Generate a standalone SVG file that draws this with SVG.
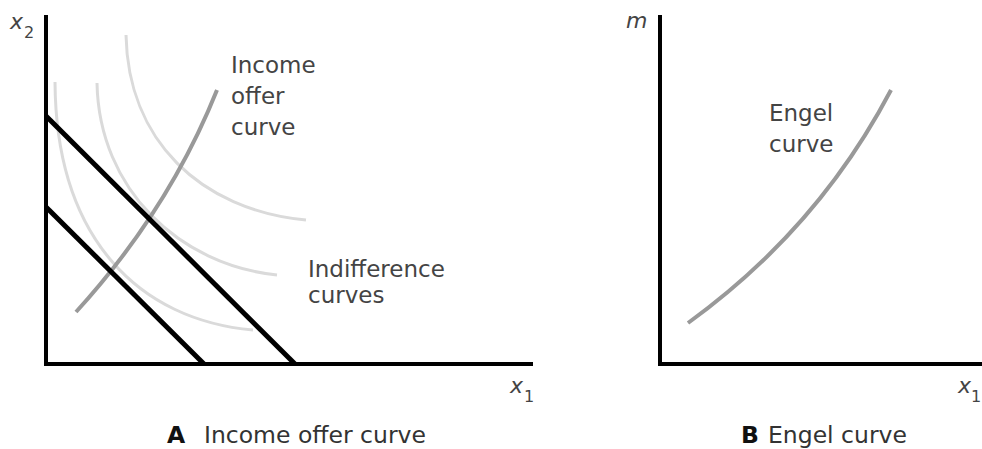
<svg xmlns="http://www.w3.org/2000/svg" width="982" height="449" viewBox="0 0 982 449">
<style>
.ax{stroke:#000;stroke-width:4;fill:none;stroke-linecap:butt}
.bud{stroke:#000;stroke-width:5;fill:none}
.ioc{stroke:#999;stroke-width:4;fill:none}
.ic{stroke:#dadada;stroke-width:3;fill:none}
.lbl{font-family:"DejaVu Sans",sans-serif;font-size:23px;fill:#444}
.cap{font-family:"DejaVu Sans",sans-serif;font-size:23.5px;fill:#333}
.capb{font-family:"DejaVu Sans",sans-serif;font-size:23.5px;font-weight:bold;fill:#111}
.var{font-family:"DejaVu Sans",sans-serif;font-style:italic;font-size:22px;fill:#444}
.sub{font-family:"DejaVu Sans",sans-serif;font-size:16px;fill:#444}
</style>
<rect width="982" height="449" fill="#fff"/>
<g id="panelA">
  <g id="indifference-curves">
    <path class="ic" d="M126,35 C128,140 200,210 306,220"/>
    <path class="ic" d="M97,83 C99,190 180,265 277,275"/>
    <path class="ic" d="M55,82 C56,240 140,320 253,330"/>
  </g>
  <g id="income-offer-curve">
    <path class="ioc" d="M76,312 Q169,210 217,90"/>
  </g>
  <g id="budget-lines">
    <line class="bud" x1="46" y1="116" x2="295" y2="364"/>
    <line class="bud" x1="46" y1="207" x2="204" y2="364"/>
  </g>
  <g id="axesA">
    <line class="ax" x1="46" y1="15" x2="46" y2="366"/>
    <line class="ax" x1="44" y1="364" x2="533" y2="364"/>
  </g>
  <g id="labelsA">
    <text class="var" x="10" y="29">x</text><text class="sub" x="24" y="38">2</text>
    <text class="var" x="510" y="393">x</text><text class="sub" x="524" y="402">1</text>
    <text class="lbl" x="231" y="73">Income</text>
    <text class="lbl" x="231" y="104">offer</text>
    <text class="lbl" x="231" y="135">curve</text>
    <text class="lbl" x="308" y="277">Indifference</text>
    <text class="lbl" x="308" y="303">curves</text>
  </g>
  <g id="captionA">
    <text class="capb" x="167" y="443">A</text>
    <text class="cap" x="204" y="443">Income offer curve</text>
  </g>
</g>
<g id="panelB">
  <g id="engel-curve">
    <path class="ioc" d="M688,323 Q818,229 891,90"/>
  </g>
  <g id="axesB">
    <line class="ax" x1="660" y1="15" x2="660" y2="366"/>
    <line class="ax" x1="658" y1="364" x2="982" y2="364"/>
  </g>
  <g id="labelsB">
    <text class="var" x="626" y="28">m</text>
    <text class="var" x="958" y="393">x</text><text class="sub" x="971" y="402">1</text>
    <text class="lbl" x="769" y="121">Engel</text>
    <text class="lbl" x="769" y="152">curve</text>
  </g>
  <g id="captionB">
    <text class="capb" x="741" y="443">B</text>
    <text class="cap" x="768" y="443">Engel curve</text>
  </g>
</g>
</svg>
